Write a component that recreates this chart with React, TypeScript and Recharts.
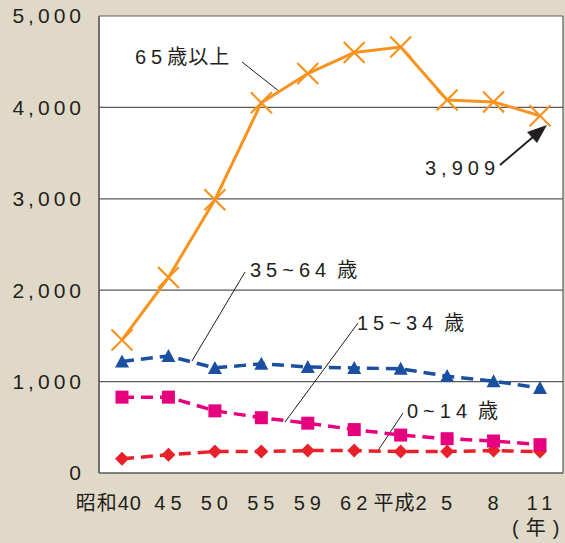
import React from "react";
import { LineChart, Line, XAxis, YAxis, CartesianGrid } from "recharts";

const categories = ["昭和40", "45", "50", "55", "59", "62", "平成2", "5", "8", "11"];
const over65 = [1455, 2140, 2990, 4050, 4370, 4600, 4660, 4080, 4060, 3909];
const age35to64 = [1220, 1280, 1150, 1195, 1160, 1150, 1140, 1060, 1005, 930];
const age15to34 = [830, 830, 680, 605, 545, 475, 415, 375, 350, 310];
const age0to14 = [155, 200, 235, 235, 245, 245, 235, 235, 245, 235];
const yTicks = [0, 1000, 2000, 3000, 4000, 5000];

const rows = categories.map((c, i) => ({
  cat: c,
  over65: over65[i],
  age35to64: age35to64[i],
  age15to34: age15to34[i],
  age0to14: age0to14[i],
}));

const FONT = '"Liberation Sans", Arial, "Noto Sans CJK JP", sans-serif';
const INK = "#231f20";
const BG = "#e0d9c7";
const ORANGE = "#f7931e";
const BLUE = "#1b50a0";
const MAGENTA = "#e6007e";
const RED = "#e8212b";

// split text so only the latin digits get the wide spacing
function Spaced({ x, y, text, anchor = "start", size = 20, gap = 5, kanjiDx = 0 }: any) {
  const parts = text.match(/[\x00-\x7f]+|[^\x00-\x7f]+/g) || [];
  return (
    <text x={x} y={y} dy="0.355em" textAnchor={anchor} fill={INK} fontSize={size} fontFamily={FONT}>
      {parts.map((s: string, i: number) => {
        const latin = /^[\x00-\x7f]+$/.test(s);
        return (
          <tspan key={i} letterSpacing={latin ? gap : 1} dx={!latin && i > 0 ? kanjiDx : undefined}>
            {s}
          </tspan>
        );
      })}
    </text>
  );
}

function Cross(p: any) {
  const { cx, cy } = p;
  if (cx == null || cy == null) return null;
  const r = 10.5;
  return (
    <g stroke={ORANGE} strokeWidth={2.2}>
      <line x1={cx - r} y1={cy - r} x2={cx + r} y2={cy + r} />
      <line x1={cx - r} y1={cy + r} x2={cx + r} y2={cy - r} />
    </g>
  );
}

function Tri(p: any) {
  const { cx, cy } = p;
  if (cx == null || cy == null) return null;
  return <polygon points={`${cx},${cy - 7} ${cx + 7},${cy + 6} ${cx - 7},${cy + 6}`} fill={BLUE} />;
}

function Sq(p: any) {
  const { cx, cy } = p;
  if (cx == null || cy == null) return null;
  return <rect x={cx - 6.5} y={cy - 6.5} width={13} height={13} fill={MAGENTA} />;
}

function Dia(p: any) {
  const { cx, cy } = p;
  if (cx == null || cy == null) return null;
  return <polygon points={`${cx},${cy - 7} ${cx + 7},${cy} ${cx},${cy + 7} ${cx - 7},${cy}`} fill={RED} />;
}

function XTick(p: any) {
  const { x, y, payload } = p;
  const first = payload.value === "昭和40";
  return (
    <Spaced
      x={first ? x + 20 : x + 2}
      y={y + 7}
      text={payload.value}
      anchor={first ? "end" : "middle"}
      gap={first ? 1 : 5}
    />
  );
}

export default function App() {
  return (
    <div style={{ position: "absolute", left: 0, top: 0, width: 565, height: 543, background: BG }}>
      <LineChart width={565} height={543} data={rows} margin={{ top: 16, right: 2, left: 0, bottom: 30 }}>
        <CartesianGrid stroke="#5a5a5a" strokeWidth={1.2} fill="#ffffff" verticalPoints={[99, 563]} />
        <XAxis
          dataKey="cat"
          padding={{ left: 23, right: 23 }}
          tickLine={false}
          axisLine={{ stroke: "#5a5a5a", strokeWidth: 1.2 }}
          tickSize={0}
          tickMargin={23}
          height={40}
          interval={0}
          tick={<XTick />}
        />
        <YAxis
          domain={[0, 5000]}
          ticks={yTicks}
          width={99}
          tickLine={false}
          axisLine={{ stroke: "#5a5a5a", strokeWidth: 1.2 }}
          tickSize={0}
          tickMargin={14}
          tickFormatter={(v: number) => v.toLocaleString("en-US")}
          tick={{ fill: INK, fontSize: 21, fontFamily: FONT, letterSpacing: 4 }}
        />
        <Line dataKey="age0to14" stroke={RED} strokeWidth={3.5} strokeDasharray="12 7" dot={<Dia />} isAnimationActive={false} />
        <Line dataKey="age15to34" stroke={MAGENTA} strokeWidth={3.5} strokeDasharray="12 7" dot={<Sq />} isAnimationActive={false} />
        <Line dataKey="age35to64" stroke={BLUE} strokeWidth={3.5} strokeDasharray="12 7" dot={<Tri />} isAnimationActive={false} />
        <Line dataKey="over65" stroke={ORANGE} strokeWidth={3} dot={<Cross />} isAnimationActive={false} />
        <g>
          <Spaced x={135} y={57} text="65歳以上" />
          <line x1={242} y1={62} x2={280} y2={92} stroke={INK} strokeWidth={1} />
          <Spaced x={425} y={168} text="3,909" gap={5} />
          <line x1={500} y1={165} x2={533} y2={137} stroke={INK} strokeWidth={2} />
          <polygon points="547,125 527,132 537,143" fill={INK} />
          <Spaced x={250} y={270} text="35~64歳" kanjiDx={6} />
          <line x1={245} y1={272} x2={192} y2={361} stroke={INK} strokeWidth={1} />
          <Spaced x={357} y={323} text="15~34歳" kanjiDx={6} />
          <line x1={358} y1={323} x2={285} y2={422} stroke={INK} strokeWidth={1} />
          <Spaced x={407} y={411} text="0~14歳" kanjiDx={6} />
          <line x1={403} y1={413} x2={377} y2={452} stroke={INK} strokeWidth={1} />
          <text x={512} y={528} dy="0.355em" fill={INK} fontSize={20} fontFamily={FONT}>
            <tspan>(</tspan>
            <tspan dx={7}>年</tspan>
            <tspan dx={7}>)</tspan>
          </text>
        </g>
      </LineChart>
    </div>
  );
}
